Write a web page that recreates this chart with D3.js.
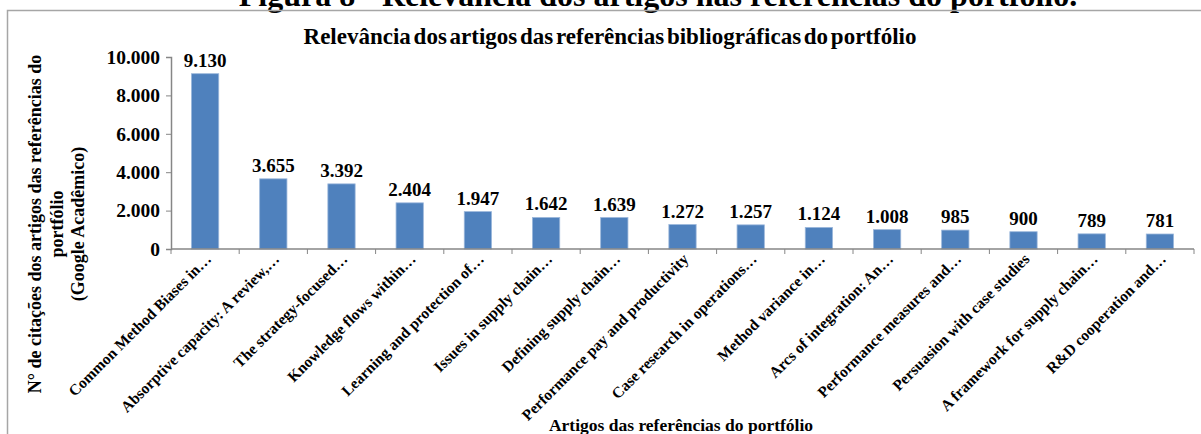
<!DOCTYPE html>
<html>
<head>
<meta charset="utf-8">
<script src="https://cdn.jsdelivr.net/npm/d3@7"></script>
<style>
    body { margin: 0; background: #fff; }
    svg { display: block; font-family: "Liberation Serif", "Times New Roman", serif; font-weight: bold; }
</style>
</head>
<body>
<div class="charts"></div>
<script>

    // dados
    var artigos = [
        'Common Method Biases in…',
        'Absorptive capacity: A review,…',
        'The strategy-focused…',
        'Knowledge flows within…',
        'Learning and protection of…',
        'Issues in supply chain…',
        'Defining supply chain…',
        'Performance pay and productivity',
        'Case research in operations…',
        'Method variance in…',
        'Arcs of integration: An…',
        'Performance measures and…',
        'Persuasion with case studies',
        'A framework for supply chain…',
        'R&D cooperation and…'
    ]

    var citacoes = [9130, 3655, 3392, 2404, 1947, 1642, 1639, 1272, 1257, 1124, 1008, 985, 900, 789, 781]

    var yTicks = [0, 2000, 4000, 6000, 8000, 10000]

    var yTitle = ['N° de citações dos artigos das referências do', 'portfólio', '(Google Acadêmico)']

    var width = 1201, height = 434

    var ptBR = d3.formatLocale({ decimal: ',', thousands: '.', grouping: [3], currency: ['R$', ''] })
    var fmt = ptBR.format(',d')

    var data = artigos.map((d, i) => ({ artigo: d, valor: citacoes[i] }))

    var x = d3.scaleBand()
        .domain(artigos)
        .range([171, 1194])
        .paddingInner(0.6)
        .paddingOuter(0.3)

    var y = d3.scaleLinear()
        .domain([0, 10000])
        .range([249, 57])

    var svg = d3.select('.charts')
        .append('svg')
        .attr('width', width)
        .attr('height', height)

    // legenda da figura (cortada no topo, como na imagem original)
    svg.append('text')
        .attr('x', 658)
        .attr('y', 6)
        .attr('text-anchor', 'middle')
        .style('font-size', '32px')
        .text('Figura 8 - Relevância dos artigos nas referências do portfólio.')

    // borda da área do gráfico
    svg.append('rect')
        .attr('x', 7.5)
        .attr('y', 10.5)
        .attr('width', width)
        .attr('height', height)
        .attr('fill', 'none')
        .attr('stroke', '#a6a6a6')
        .attr('stroke-width', 1.5)

    svg.append('text')
        .attr('x', 610)
        .attr('y', 44)
        .attr('text-anchor', 'middle')
        .style('font-size', '23px')
        .style('word-spacing', '-3px')
        .text('Relevância dos artigos das referências bibliográficas do portfólio')

    // barras
    svg.selectAll('.bar')
        .data(data)
        .join('rect')
        .attr('class', 'bar')
        .attr('x', d => x(d.artigo))
        .attr('y', d => y(d.valor))
        .attr('width', x.bandwidth())
        .attr('height', d => y(0) - y(d.valor))
        .attr('fill', '#4f81bd')
        .attr('stroke', '#9bb7db')
        .attr('stroke-width', 0.8)

    svg.selectAll('.label-valor')
        .data(data)
        .join('text')
        .attr('class', 'label-valor')
        .attr('x', d => x(d.artigo) + x.bandwidth() / 2)
        .attr('y', d => y(d.valor) - 7)
        .attr('text-anchor', 'middle')
        .style('font-size', '19px')
        .text(d => fmt(d.valor))

    // eixo y
    svg.append('g')
        .attr('transform', 'translate(' + x.range()[0] + ',0)')
        .call(d3.axisLeft(y).tickValues(yTicks).tickFormat(fmt).tickSize(5).tickPadding(6))
        .call(sel => {
            sel.select('.domain').attr('stroke', '#868686').attr('stroke-width', 1.5)
            sel.selectAll('.tick line').attr('stroke', '#868686')
            sel.selectAll('.tick text')
                .attr('fill', '#000')
                .style('font-family', '"Liberation Serif", serif')
                .style('font-weight', 'bold')
                .style('font-size', '19.5px')
        })

    // eixo x
    var x0 = x.range()[0]
    svg.append('line')
        .attr('x1', x0)
        .attr('x2', x.range()[1])
        .attr('y1', y(0))
        .attr('y2', y(0))
        .attr('stroke', '#868686')
        .attr('stroke-width', 1.5)

    svg.selectAll('.xtick')
        .data(d3.range(artigos.length + 1))
        .join('line')
        .attr('class', 'xtick')
        .attr('x1', d => x0 + d * x.step())
        .attr('x2', d => x0 + d * x.step())
        .attr('y1', y(0))
        .attr('y2', y(0) + 5)
        .attr('stroke', '#868686')

    svg.selectAll('.label-artigo')
        .data(data)
        .join('text')
        .attr('class', 'label-artigo')
        .attr('transform', d => 'translate(' + (x(d.artigo) + x.bandwidth() / 2 + 7) + ',' + (y(0) + 11) + ') rotate(-45)')
        .attr('text-anchor', 'end')
        .style('font-size', '15.5px')
        .text(d => d.artigo)

    // títulos dos eixos
    svg.append('text')
        .attr('x', 681)
        .attr('y', 431)
        .attr('text-anchor', 'middle')
        .style('font-size', '17.5px')
        .text('Artigos das referências do portfólio')

    svg.append('text')
        .attr('transform', 'translate(41,224) rotate(-90)')
        .attr('text-anchor', 'middle')
        .style('font-size', '18px')
        .selectAll('tspan')
        .data(yTitle)
        .join('tspan')
        .attr('x', 0)
        .attr('dy', (d, i) => i == 0 ? 0 : '1.2em')
        .text(d => d)

</script>
</body>
</html>
